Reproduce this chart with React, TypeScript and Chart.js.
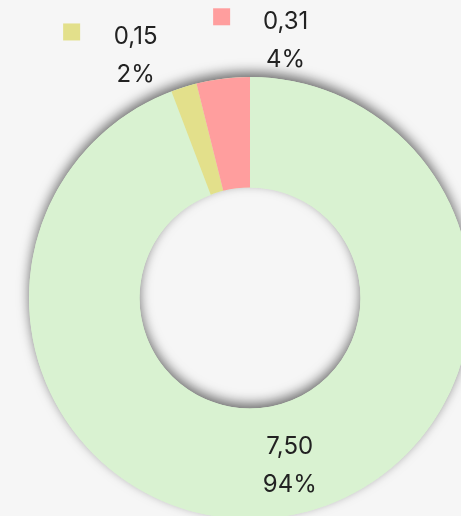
import { useEffect, useRef } from "react";
import { Chart, registerables } from "chart.js";

Chart.register(...registerables);

const categories = ["Categoría A", "Categoría B", "Categoría C"];
const values = [7.5, 0.15, 0.31];
const colors = ["#d9f2d1", "#e3e08b", "#ff9e9e"];

// label placement: radial factor of outer radius, then pixel shift
const labelPlacement = [
  { f: 0.77, dx: 9, dy: 0, box: false },
  { f: 1.2, dx: -35, dy: 11, box: true },
  { f: 1.2, dx: 68, dy: 6, box: true },
];

const BG = "#f6f6f6";
const FONT = "Inter, 'Open Sans', sans-serif";

const ringShadow = {
  id: "ringShadow",
  beforeDatasetsDraw(chart: any) {
    const meta = chart.getDatasetMeta(0);
    const a = meta.data[0];
    if (!a) return;
    const { x, y, innerRadius, outerRadius } = a.getProps(["x", "y", "innerRadius", "outerRadius"], true);
    const ctx = chart.ctx;
    ctx.save();
    ctx.shadowColor = "rgba(0,0,0,0.55)";
    ctx.shadowBlur = 12;
    ctx.shadowOffsetX = 0;
    ctx.shadowOffsetY = -5;
    ctx.fillStyle = colors[0];
    ctx.beginPath();
    ctx.arc(x, y, outerRadius, 0, Math.PI * 2);
    ctx.arc(x, y, innerRadius, 0, Math.PI * 2, true);
    ctx.closePath();
    ctx.fill();
    ctx.restore();
  },
};

const arcLabels = {
  id: "arcLabels",
  afterDatasetsDraw(chart: any) {
    const meta = chart.getDatasetMeta(0);
    const data = chart.data.datasets[0].data as number[];
    const total = data.reduce((s, v) => s + v, 0);
    const ctx = chart.ctx;
    ctx.save();
    ctx.font = `400 24px ${FONT}`;
    ctx.fillStyle = "#222222";
    ctx.textAlign = "center";
    ctx.textBaseline = "middle";
    meta.data.forEach((arc: any, i: number) => {
      const { x, y, startAngle, endAngle, outerRadius } = arc.getProps(
        ["x", "y", "startAngle", "endAngle", "outerRadius"],
        true
      );
      const mid = (startAngle + endAngle) / 2;
      const p = labelPlacement[i];
      const lx = x + Math.cos(mid) * outerRadius * p.f + p.dx;
      const ly = y + Math.sin(mid) * outerRadius * p.f + p.dy;
      const v = data[i];
      const pct = Math.round((v / total) * 100) + "%";
      const txt = v.toFixed(2).replace(".", ",");
      ctx.fillText(txt, lx, ly - 19);
      ctx.fillText(pct, lx, ly + 19);
      if (p.box) {
        ctx.fillStyle = colors[i];
        ctx.fillRect(lx - 64 - 8.5, ly - 19 - 5 - 8.5, 17, 17);
        ctx.fillStyle = "#222222";
      }
    });
    ctx.restore();
  },
};

export default function App() {
  const ref = useRef<HTMLCanvasElement>(null);
  useEffect(() => {
    if (!ref.current) return;
    const chart = new Chart(ref.current, {
      type: "doughnut",
      data: {
        labels: categories,
        datasets: [
          {
            data: values,
            backgroundColor: colors,
            borderWidth: 0,
            hoverOffset: 0,
          },
        ],
      },
      options: {
        responsive: false,
        animation: false,
        cutout: "50%",
        layout: { padding: { left: 29, top: 77, right: 29, bottom: 81 } },
        plugins: {
          legend: { display: false },
          tooltip: { enabled: false },
        },
      },
      plugins: [ringShadow, arcLabels],
    });
    return () => chart.destroy();
  }, []);
  return (
    <div
      style={{
        position: "fixed",
        left: 0,
        top: 0,
        width: 461,
        height: 516,
        overflow: "hidden",
        background: BG,
      }}
    >
      <canvas
        ref={ref}
        width={500}
        height={600}
        style={{ position: "absolute", left: 0, top: 0, width: 500, height: 600 }}
      />
    </div>
  );
}
